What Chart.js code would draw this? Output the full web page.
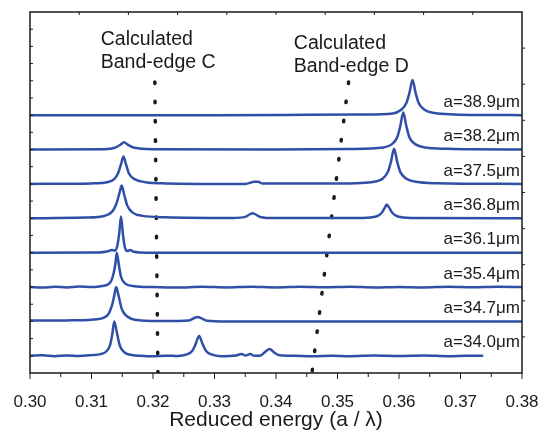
<!DOCTYPE html>
<html>
<head>
<meta charset="utf-8">
<script src="https://cdn.jsdelivr.net/npm/chart.js"></script>
<style>body{margin:0;background:#fff}</style>
</head>
<body>
<canvas id="myChart" width="541" height="436"></canvas>
<script>
// spectra: [reduced energy, intensity above own baseline]
const s340 = [[0.300,0],[0.302,0.03],[0.304,-0.02],[0.306,0.02],[0.308,-0.01],[0.310,0.04],[0.3115,0.1],[0.3124,0.25],[0.3130,0.6],[0.3134,1.3],[0.3137,2.0],[0.3141,1.4],[0.3146,0.6],[0.3153,0.22],[0.3163,0.06],[0.318,0],[0.320,-0.03],[0.322,0.01],[0.324,-0.01],[0.3255,0.08],[0.3264,0.3],[0.3269,0.65],[0.3275,1.15],[0.3280,0.75],[0.3286,0.3],[0.3295,0.08],[0.331,-0.02],[0.3335,0.02],[0.3344,0.1],[0.3350,0.02],[0.3358,0.1],[0.3365,0],[0.3375,0.02],[0.3384,0.28],[0.3390,0.4],[0.3396,0.22],[0.3406,0.03],[0.343,0],[0.346,-0.03],[0.349,0.01],[0.352,-0.02],[0.356,0.02],[0.360,-0.01],[0.364,0.02],[0.368,-0.02],[0.371,0.01],[0.3737,0]];
const s347 = [[0.300,0.05],[0.306,0.06],[0.310,0.1],[0.3120,0.22],[0.3128,0.45],[0.3133,0.9],[0.3137,1.5],[0.3140,2.0],[0.3144,1.5],[0.3149,0.75],[0.3156,0.35],[0.3165,0.15],[0.318,0.06],[0.322,0.02],[0.3258,0.05],[0.3267,0.2],[0.3273,0.26],[0.3279,0.18],[0.3288,0.04],[0.332,0],[0.380,0]];
const s354 = [[0.300,0],[0.302,-0.03],[0.304,0.02],[0.306,-0.02],[0.308,0.03],[0.310,0],[0.3115,0.05],[0.3126,0.14],[0.3132,0.35],[0.3136,0.8],[0.3139,1.4],[0.3141,2.0],[0.3144,1.4],[0.3148,0.6],[0.3155,0.2],[0.317,0.05],[0.320,0],[0.324,-0.03],[0.328,0.02],[0.332,-0.02],[0.336,0.02],[0.340,-0.02],[0.344,0.02],[0.348,-0.01],[0.352,0.02],[0.356,-0.02],[0.360,0.01],[0.364,-0.02],[0.368,0.02],[0.372,-0.01],[0.376,0.02],[0.380,0]];
const s361 = [[0.300,0],[0.311,0.01],[0.3127,0.08],[0.3133,0.16],[0.3138,0.12],[0.3142,0.4],[0.3145,1.1],[0.3148,2.1],[0.3151,1.1],[0.3154,0.35],[0.3158,0.1],[0.3163,0.15],[0.3169,0.05],[0.319,0],[0.380,0]];
const s368 = [[0.300,0],[0.309,0.04],[0.3122,0.15],[0.3134,0.4],[0.3140,0.8],[0.3145,1.4],[0.3149,1.9],[0.3153,1.4],[0.3158,0.75],[0.3167,0.33],[0.3183,0.14],[0.322,0.06],[0.333,0.02],[0.3350,0.08],[0.3357,0.22],[0.3362,0.3],[0.3367,0.22],[0.3374,0.08],[0.340,0.01],[0.354,0.02],[0.3563,0.1],[0.3572,0.32],[0.3577,0.62],[0.3580,0.8],[0.3584,0.62],[0.3589,0.32],[0.3598,0.1],[0.362,0.02],[0.380,0]];
const s375 = [[0.300,0],[0.310,0.03],[0.3125,0.1],[0.3137,0.28],[0.3143,0.6],[0.3148,1.15],[0.3152,1.6],[0.3156,1.15],[0.3161,0.6],[0.3170,0.28],[0.3188,0.1],[0.322,0.03],[0.335,0],[0.3365,0.12],[0.3371,0.12],[0.3378,0.02],[0.350,0.02],[0.3555,0.1],[0.3573,0.3],[0.3582,0.7],[0.3587,1.3],[0.3592,2.05],[0.3597,1.3],[0.3602,0.7],[0.3612,0.3],[0.3628,0.12],[0.366,0.04],[0.380,0]];
const s382 = [[0.300,0],[0.312,0.02],[0.3138,0.1],[0.3147,0.28],[0.3153,0.42],[0.3159,0.28],[0.3170,0.1],[0.320,0.02],[0.340,0],[0.352,0.03],[0.3575,0.12],[0.3588,0.3],[0.3597,0.7],[0.3602,1.35],[0.3607,2.15],[0.3612,1.35],[0.3617,0.7],[0.3627,0.3],[0.3643,0.12],[0.368,0.04],[0.372,0.01],[0.380,0]];
const s389 = [[0.300,0],[0.330,0],[0.345,0.02],[0.354,0.04],[0.3590,0.1],[0.3603,0.3],[0.3612,0.7],[0.3617,1.3],[0.3622,2.05],[0.3627,1.3],[0.3632,0.7],[0.3642,0.3],[0.3658,0.12],[0.369,0.04],[0.374,0.01],[0.380,0]];

const traces = [s340, s347, s354, s361, s368, s375, s382, s389];
const lattice = ['a=34.0μm','a=34.7μm','a=35.4μm','a=36.1μm','a=36.8μm','a=37.5μm','a=38.2μm','a=38.9μm'];
const offsets = [1, 3, 5, 7, 9, 11, 13, 15];

// calculated band edges (dotted), top and bottom ends
const edgeC = [[0.3203,16.93],[0.3208,0.03]];
const edgeD = [[0.3518,16.93],[0.34585,0.03]];
const notes = [
  {lines:['Calculated','Band-edge C'], x:0.3115, y:19.37},
  {lines:['Calculated','Band-edge D'], x:0.3429, y:19.14}
];

const blue = '#3050a8';
const ink = '#1a1a1a';

const datasets = traces.map((pts, i) => ({
  label: lattice[i],
  data: pts.map(p => ({x: p[0], y: p[1] + offsets[i]})),
  borderColor: blue,
  borderWidth: 2.5,
  pointRadius: 0,
  cubicInterpolationMode: 'monotone'
}));
[edgeC, edgeD].forEach(e => datasets.push({
  data: e.map(p => ({x: p[0], y: p[1]})),
  borderColor: ink,
  borderWidth: 3.5,
  borderDash: [1.5, 17.8],
  borderCapStyle: 'round',
  pointRadius: 0
}));

const frame = {
  id: 'frame',
  afterDraw(chart) {
    const {ctx, chartArea: a, scales: {x, y}} = chart;
    ctx.save();
    ctx.strokeStyle = ink;
    ctx.lineWidth = 1.5;
    ctx.strokeRect(a.left, a.top, a.right - a.left, a.bottom - a.top);
    ctx.lineWidth = 1;
    ctx.beginPath();
    for (let i = 0; i <= 16; i++) {
      const px = x.getPixelForValue(0.30 + i * 0.005);
      ctx.moveTo(px, a.bottom);
      ctx.lineTo(px, a.bottom + (i % 2 ? 4 : 6));
    }
    for (let i = 1; i < 10; i++) {
      const px = a.left + i * (a.right - a.left) / 10;
      ctx.moveTo(px, a.top); ctx.lineTo(px, a.top + 3);
      const py = a.top + i * (a.bottom - a.top) / 10;
      ctx.moveTo(a.right, py); ctx.lineTo(a.right + 3, py);
    }
    for (let i = 1; i < 21; i++) {
      const py = y.getPixelForValue(i);
      ctx.moveTo(a.left, py); ctx.lineTo(a.left + 3, py);
    }
    ctx.stroke();

    ctx.fillStyle = ink;
    ctx.textBaseline = 'middle';
    ctx.textAlign = 'right';
    ctx.font = '17px "Liberation Sans", Arial, sans-serif';
    lattice.forEach((t, i) => {
      ctx.fillText(t, a.right - 2, y.getPixelForValue(offsets[i]) - 13);
    });
    ctx.textAlign = 'left';
    ctx.font = '19.5px "Liberation Sans", Arial, sans-serif';
    notes.forEach(n => {
      n.lines.forEach((t, k) => {
        ctx.fillText(t, x.getPixelForValue(n.x), y.getPixelForValue(n.y) + k * 23);
      });
    });
    ctx.restore();
  }
};

new Chart(document.getElementById('myChart'), {
  type: 'line',
  data: {datasets: datasets},
  options: {
    responsive: false,
    animation: false,
    layout: {padding: {top: 12, right: 19, left: 0, bottom: 0}},
    plugins: {legend: {display: false}, tooltip: {enabled: false}},
    scales: {
      x: {
        type: 'linear', min: 0.30, max: 0.38,
        ticks: {stepSize: 0.01, padding: 11, color: ink, maxRotation: 0, autoSkip: false,
          font: {family: '"Liberation Sans", Arial, sans-serif', size: 17},
          callback: v => v.toFixed(2)},
        grid: {display: false},
        border: {display: false},
        title: {display: true, text: 'Reduced energy (a / λ)', color: ink,
          font: {family: '"Liberation Sans", Arial, sans-serif', size: 21},
          padding: {top: 0, bottom: 3}},
        afterFit: s => { s.height = 63; s.paddingLeft = 0; s.paddingRight = 0; }
      },
      y: {
        min: 0, max: 21,
        ticks: {display: false},
        grid: {display: false},
        border: {display: false},
        afterFit: s => { s.width = 30; }
      }
    }
  },
  plugins: [frame]
});
</script>
</body>
</html>
